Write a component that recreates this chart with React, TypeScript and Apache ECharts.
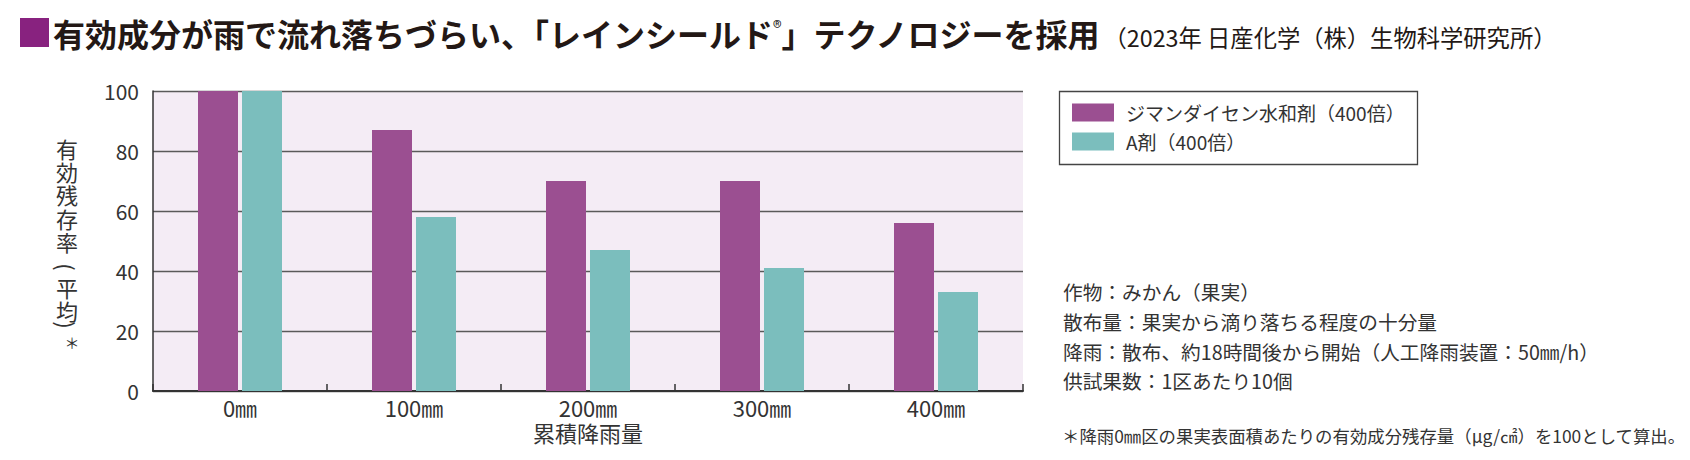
import React, { useEffect, useRef } from 'react';
import * as echarts from 'echarts';

const categories = ['0㎜', '100㎜', '200㎜', '300㎜', '400㎜'];
const seriesNames = ['ジマンダイセン水和剤（400倍）', 'A剤（400倍）'];
const dimanValues = [100, 87, 70, 70, 56];
const agentAValues = [100, 58, 47, 41, 33];
const yMin = 0;
const yMax = 100;
const yInterval = 20;

const titleMainA = '有効成分が雨で流れ落ちづらい、「レインシールド';
const titleReg = '®';
const titleMainB = '」テクノロジーを採用';
const titleSource = '（2023年 日産化学（株）生物科学研究所）';
const yAxisNamePart1 = ['有', '効', '残', '存', '率'];
const yAxisNameOpen = '(';
const yAxisNamePart2 = ['平', '均'];
const yAxisNameClose = ')';
const yAxisNameMark = '＊';
const xAxisName = '累積降雨量';
const notes = [
  '作物：みかん（果実）',
  '散布量：果実から滴り落ちる程度の十分量',
  '降雨：散布、約18時間後から開始（人工降雨装置：50㎜/h）',
  '供試果数：1区あたり10個',
];
const footnote = '＊降雨0㎜区の果実表面積あたりの有効成分残存量（μg/㎠）を100として算出。';

const FONT = '"Noto Sans CJK JP", "Noto Sans", sans-serif';
const PURPLE = '#9B4F91';
const TEAL = '#7BBEBD';
const TEXT = '#333333';

export default function App() {
  const ref = useRef<HTMLDivElement>(null);
  useEffect(() => {
    if (!ref.current) return;
    const chart = echarts.init(ref.current, null, { renderer: 'svg' });
    const yNameStyle = { fontFamily: FONT, fontSize: 22, fill: TEXT, lineHeight: 23.3 };
    chart.setOption({
      animation: false,
      textStyle: { fontFamily: FONT },
      grid: {
        left: 153,
        right: 1690 - 1023,
        top: 91,
        bottom: 460 - 391,
        show: true,
        backgroundColor: '#F4ECF5',
        borderWidth: 0,
        containLabel: false,
      },
      legend: {
        orient: 'vertical',
        left: 1072,
        top: 103,
        padding: 0,
        itemWidth: 42,
        itemHeight: 18,
        itemGap: 10,
        icon: 'rect',
        data: seriesNames,
        textStyle: {
          fontFamily: FONT,
          fontSize: 19,
          color: TEXT,
          lineHeight: 18,
          padding: [0, 0, 0, 7],
        },
      },
      xAxis: {
        type: 'category',
        data: categories,
        axisLine: { show: true, lineStyle: { color: '#333', width: 2 } },
        axisTick: { show: true, inside: true, length: 7, lineStyle: { color: '#333', width: 1.5 } },
        axisLabel: { fontFamily: FONT, fontSize: 22, color: TEXT, margin: 5 },
        splitLine: { show: false },
      },
      yAxis: {
        type: 'value',
        min: yMin,
        max: yMax,
        interval: yInterval,
        axisLine: { show: true, lineStyle: { color: '#333', width: 1.5 } },
        axisTick: { show: false },
        axisLabel: { fontFamily: FONT, fontSize: 21, color: TEXT, margin: 14 },
        splitLine: { show: true, lineStyle: { color: '#5a5a5a', width: 1.3 } },
      },
      series: [
        {
          name: seriesNames[0],
          type: 'bar',
          data: dimanValues,
          barWidth: 40,
          barGap: '10%',
          itemStyle: { color: PURPLE },
        },
        {
          name: seriesNames[1],
          type: 'bar',
          data: agentAValues,
          barWidth: 40,
          barGap: '10%',
          itemStyle: { color: TEAL },
        },
      ],
      graphic: [
        {
          type: 'rect',
          left: 20,
          top: 18,
          shape: { width: 29, height: 29 },
          style: { fill: '#88227F' },
        },
        {
          type: 'text',
          x: 53,
          y: 33,
          style: {
            text: `{t|${titleMainA}}{r|${titleReg}}{t|${titleMainB}}{s|${titleSource}}`,
            align: 'left',
            verticalAlign: 'middle',
            rich: {
              t: { fontFamily: FONT, fontSize: 32, fontWeight: 'bold', fill: '#231815', color: '#231815' },
              r: { fontFamily: FONT, fontSize: 18, fill: '#231815', color: '#231815', verticalAlign: 'top' },
              s: { fontFamily: FONT, fontSize: 23.3, fill: '#231815', color: '#231815', padding: [8, 0, 0, 2] },
            },
          },
        },
        {
          type: 'text',
          x: 67,
          y: 136,
          style: { ...yNameStyle, text: yAxisNamePart1.join('\n'), align: 'center', verticalAlign: 'top' },
        },
        {
          type: 'text',
          x: 67,
          y: 267,
          rotation: -Math.PI / 2,
          style: { fontFamily: FONT, fontSize: 22, fill: TEXT, text: yAxisNameOpen, align: 'center', verticalAlign: 'middle' },
        },
        {
          type: 'text',
          x: 67,
          y: 275,
          style: { ...yNameStyle, text: yAxisNamePart2.join('\n'), align: 'center', verticalAlign: 'top' },
        },
        {
          type: 'text',
          x: 67,
          y: 325,
          rotation: -Math.PI / 2,
          style: { fontFamily: FONT, fontSize: 22, fill: TEXT, text: yAxisNameClose, align: 'center', verticalAlign: 'middle' },
        },
        {
          type: 'text',
          x: 72,
          y: 342,
          style: { fontFamily: FONT, fontSize: 15, fill: TEXT, text: yAxisNameMark, align: 'center', verticalAlign: 'middle' },
        },
        {
          type: 'text',
          x: 588,
          y: 432,
          style: {
            text: xAxisName,
            fontFamily: FONT,
            fontSize: 22,
            fill: TEXT,
            align: 'center',
            verticalAlign: 'middle',
          },
        },
        {
          type: 'rect',
          left: 1057,
          top: 89,
          shape: { width: 358, height: 73 },
          style: { fill: 'none', stroke: '#444', lineWidth: 1.3 },
          z: -1,
        },
        {
          type: 'text',
          x: 1063,
          y: 277,
          style: {
            text: notes.join('\n'),
            fontFamily: FONT,
            fontSize: 19.7,
            lineHeight: 29.7,
            fill: TEXT,
            align: 'left',
            verticalAlign: 'top',
          },
        },
        {
          type: 'text',
          x: 1062,
          y: 435,
          style: {
            text: footnote,
            fontFamily: FONT,
            fontSize: 17.4,
            fill: TEXT,
            align: 'left',
            verticalAlign: 'middle',
          },
        },
      ],
    });
    return () => chart.dispose();
  }, []);
  return (
    <div
      ref={ref}
      style={{ position: 'fixed', left: 0, top: 0, width: 1690, height: 460, background: '#fff' }}
    />
  );
}
